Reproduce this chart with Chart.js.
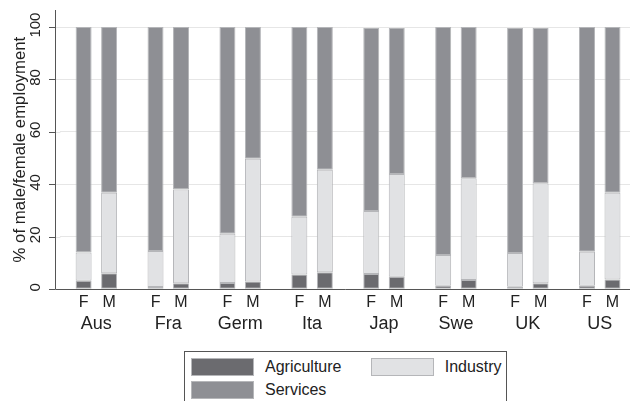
<!DOCTYPE html>
<html>
<head>
<meta charset="utf-8">
<script src="https://cdn.jsdelivr.net/npm/chart.js@4"></script>
<style>
  html, body { margin: 0; padding: 0; background: #fff; overflow: hidden; }
  #wrap { position: relative; width: 630px; height: 401px; overflow: hidden; }
  #box { position: absolute; left: 0; top: 0; width: 640px; height: 345px; }
  #legend {
    position: absolute; left: 184px; top: 351px; width: 321px; height: 70px;
    border: 1px solid #555; font-family: "Liberation Sans", Arial, sans-serif;
    font-size: 16px; color: #222;
  }
  .item { position: absolute; display: flex; align-items: center; }
  .sw { width: 61px; height: 16px; border: 1px solid #b5b6b9; margin-right: 11px; }
</style>
</head>
<body>
<div id="wrap">
  <div id="box"><canvas id="chart"></canvas></div>
  <div id="legend"></div>
</div>
<script>
// data (% of employment)
const countries = ["Aus", "Fra", "Germ", "Ita", "Jap", "Swe", "UK", "US"];
const sexes = ["F", "M"];
const agricultureF = [3.3, 0.9, 2.4, 5.6, 5.8, 1.4, 1.0, 1.4];
const agricultureM = [6.1, 2.3, 3.0, 6.5, 4.8, 3.5, 2.3, 3.7];
const industryF = [10.7, 13.7, 18.8, 22.1, 24.1, 11.7, 12.8, 12.9];
const industryM = [30.7, 35.8, 46.8, 39.1, 39.2, 38.8, 38.1, 33.1];
const servicesF = [86.0, 85.4, 78.8, 72.3, 69.7, 86.9, 85.8, 85.7];
const servicesM = [63.2, 61.9, 50.2, 54.4, 55.6, 57.7, 59.2, 63.2];
const yTicks = [0, 20, 40, 60, 80, 100];

const sectors = ["Agriculture", "Industry", "Services"];
const colors = ["#6b6b6f", "#e1e2e4", "#8e8f94"];
const seriesF = [agricultureF, industryF, servicesF];
const seriesM = [agricultureM, industryM, servicesM];

const font = "'Liberation Sans', Arial, sans-serif";

let datasets = [];
[["F", seriesF], ["M", seriesM]].forEach(([sex, series]) => {
  for (let i = 0; i < 3; i++) {
    datasets.push({
      label: sectors[i],
      stack: sex,
      data: series[i],
      backgroundColor: colors[i],
      borderColor: "#b5b6b9",
      borderWidth: 1,
      borderSkipped: false,
      categoryPercentage: 0.709,
      barPercentage: 0.627,
    });
  }
});

// axis lines, tick marks and F/M labels
const decor = {
  id: "decor",
  beforeDatasetsDraw(chart) {
    const { ctx, chartArea, scales: { y } } = chart;
    const axisX = chartArea.left - 5.4;
    ctx.save();
    ctx.lineWidth = 1;
    yTicks.forEach(v => {
      const py = Math.round(y.getPixelForValue(v)) + 0.5;
      ctx.strokeStyle = "#e6e6e6";
      ctx.beginPath(); ctx.moveTo(axisX, py); ctx.lineTo(chartArea.left, py); ctx.stroke();
      ctx.strokeStyle = "#555";
      ctx.beginPath(); ctx.moveTo(axisX - 6, py); ctx.lineTo(axisX, py); ctx.stroke();
    });
    ctx.restore();
  },
  afterDatasetsDraw(chart) {
    const { ctx, chartArea } = chart;
    const axisX = Math.round(chartArea.left - 5.4) + 0.5;
    const axisY = Math.round(chartArea.bottom) + 0.5;
    ctx.save();
    ctx.strokeStyle = "#555";
    ctx.lineWidth = 1;
    ctx.beginPath();
    ctx.moveTo(axisX, chartArea.top);
    ctx.lineTo(axisX, axisY);
    ctx.lineTo(chartArea.right, axisY);
    ctx.stroke();
    ctx.fillStyle = "#222";
    ctx.font = "16px " + font;
    ctx.textAlign = "center";
    ctx.textBaseline = "middle";
    [0, 3].forEach((di, k) => {
      chart.getDatasetMeta(di).data.forEach(bar => {
        ctx.fillText(sexes[k], bar.x, chartArea.bottom + 13.5);
      });
    });
    ctx.restore();
  }
};

const chart = new Chart(document.getElementById("chart"), {
  type: "bar",
  data: { labels: countries, datasets: datasets },
  options: {
    responsive: true,
    maintainAspectRatio: false,
    animation: false,
    devicePixelRatio: 1,
    layout: { padding: { top: 10, right: 4.3, left: 0, bottom: 0 } },
    plugins: {
      legend: { display: false },
      tooltip: { enabled: false },
    },
    scales: {
      x: {
        stacked: true,
        offset: true,
        grid: { display: false, drawTicks: false },
        border: { display: false },
        ticks: { color: "#222", font: { family: font, size: 18 }, padding: 24 },
        afterFit: s => { s.height = 55.7; s.paddingLeft = 0; s.paddingRight = 0; },
      },
      y: {
        stacked: true,
        min: 0,
        max: 106.5,
        afterBuildTicks: s => { s.ticks = yTicks.map(v => ({ value: v })); },
        grid: { color: "#e6e6e6", drawTicks: false },
        border: { display: false },
        ticks: {
          color: "#222",
          font: { family: font, size: 15 },
          minRotation: 90,
          maxRotation: 90,
          crossAlign: "center",
          padding: 12,
          labelOffset: -2,
        },
        title: {
          display: true,
          text: "% of male/female employment",
          color: "#222",
          font: { family: font, size: 16.8 },
          padding: { top: 10, bottom: 0 },
        },
        afterFit: s => { s.width = 60.4; s.paddingTop = 0; s.paddingBottom = 0; },
      },
    },
  },
  plugins: [decor],
});

// legend built from the F-stack datasets
const legend = document.getElementById("legend");
const slots = [[6, 6], [185.7, 6], [6, 29]];
chart.data.datasets.filter(d => d.stack === "F").forEach((d, i) => {
  const item = document.createElement("div");
  item.className = "item";
  item.style.left = slots[i][0] + "px";
  item.style.top = slots[i][1] + "px";
  item.innerHTML = '<span class="sw" style="background:' + d.backgroundColor + '"></span><span>' + d.label + "</span>";
  legend.appendChild(item);
});
</script>
</body>
</html>
